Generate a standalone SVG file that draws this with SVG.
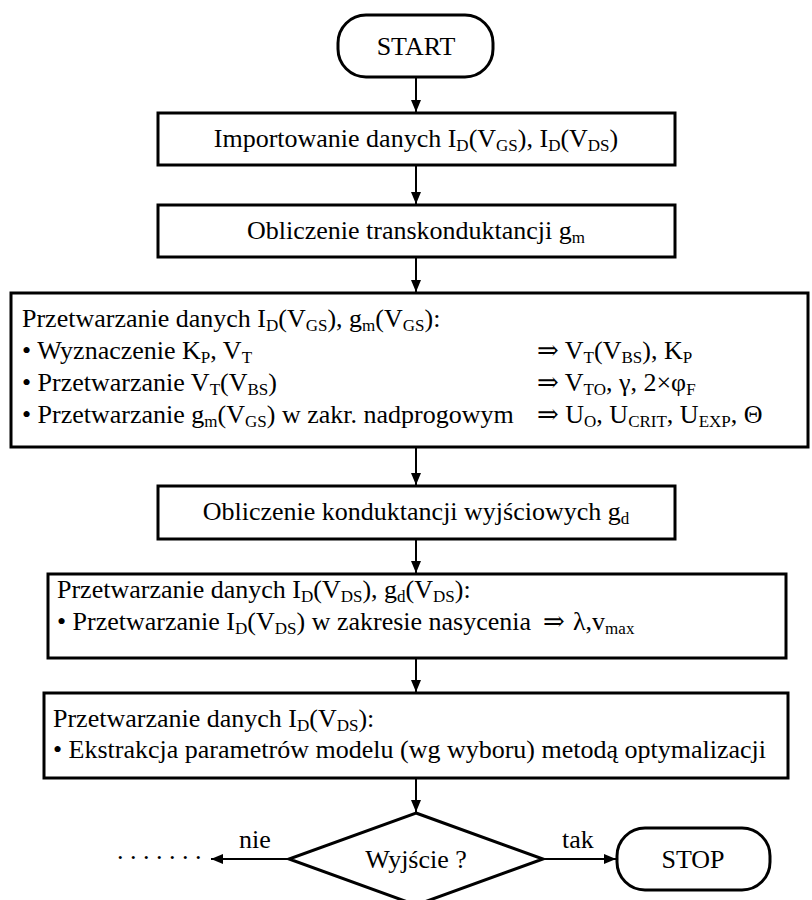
<svg xmlns="http://www.w3.org/2000/svg" width="812" height="900" viewBox="0 0 812 900">
<style>
.box{fill:#fff;stroke:#000;stroke-width:3}
.term{fill:#fff;stroke:#000;stroke-width:3}
.t{font-family:"Liberation Serif","Times New Roman","DejaVu Serif",serif;font-size:26px;fill:#000}
.c{text-anchor:middle}
.s{font-size:17px;baseline-shift:-4px}
.conn{stroke:#000;stroke-width:2;fill:none;marker-end:url(#ah)}
</style>
<defs>
<marker id="ah" markerWidth="12" markerHeight="10" refX="12" refY="5" orient="auto" markerUnits="userSpaceOnUse">
<path d="M0,0 L12,5 L0,10 z" fill="#000"/>
</marker>
</defs>
<rect width="812" height="900" fill="#fff"/>

<g id="connectors">
<line class="conn" x1="416" y1="77" x2="416" y2="112"/>
<line class="conn" x1="416" y1="165" x2="416" y2="204"/>
<line class="conn" x1="416" y1="257" x2="416" y2="292"/>
<line class="conn" x1="416" y1="447" x2="416" y2="485"/>
<line class="conn" x1="416" y1="539" x2="416" y2="573"/>
<line class="conn" x1="416" y1="658" x2="416" y2="692"/>
<line class="conn" x1="416" y1="778" x2="416" y2="812"/>
<line class="conn" x1="289" y1="859" x2="211" y2="859"/>
<line class="conn" x1="543" y1="859" x2="616" y2="859"/>
<text class="t" x="255" y="848" text-anchor="middle">nie</text>
<text class="t" x="578" y="848" text-anchor="middle">tak</text>
<text class="t" x="117" y="859">. . . . . . .</text>
</g>

<g id="start">
<rect class="term" x="338" y="15" width="155" height="62" rx="28" ry="28"/>
<text class="t c" x="416" y="55">START</text>
</g>

<g id="import">
<rect class="box" x="158" y="113" width="517" height="52"/>
<text class="t c" x="416" y="147">Importowanie danych I<tspan class="s">D</tspan>(V<tspan class="s">GS</tspan>), I<tspan class="s">D</tspan>(V<tspan class="s">DS</tspan>)</text>
</g>

<g id="gm">
<rect class="box" x="158" y="205" width="517" height="52"/>
<text class="t c" x="416" y="239">Obliczenie transkonduktancji g<tspan class="s">m</tspan></text>
</g>

<g id="proc1">
<rect class="box" x="11" y="293" width="797" height="154"/>
<text class="t" x="22" y="327">Przetwarzanie danych I<tspan class="s">D</tspan>(V<tspan class="s">GS</tspan>), g<tspan class="s">m</tspan>(V<tspan class="s">GS</tspan>):</text>
<text class="t" x="22" y="359">• Wyznaczenie K<tspan class="s">P</tspan>, V<tspan class="s">T</tspan></text>
<text class="t" x="537" y="359">⇒ V<tspan class="s">T</tspan>(V<tspan class="s">BS</tspan>), K<tspan class="s">P</tspan></text>
<text class="t" x="22" y="391">• Przetwarzanie V<tspan class="s">T</tspan>(V<tspan class="s">BS</tspan>)</text>
<text class="t" x="537" y="391">⇒ V<tspan class="s">TO</tspan>, γ, 2×φ<tspan class="s">F</tspan></text>
<text class="t" x="22" y="423">• Przetwarzanie g<tspan class="s">m</tspan>(V<tspan class="s">GS</tspan>) w zakr. nadprogowym</text>
<text class="t" x="537" y="423">⇒ U<tspan class="s">O</tspan>, U<tspan class="s">CRIT</tspan>, U<tspan class="s">EXP</tspan>, Θ</text>
</g>

<g id="gd">
<rect class="box" x="158" y="486" width="517" height="53"/>
<text class="t c" x="416" y="520">Obliczenie konduktancji wyjściowych g<tspan class="s">d</tspan></text>
</g>

<g id="proc2">
<rect class="box" x="48" y="574" width="738" height="84"/>
<text class="t" x="57" y="598">Przetwarzanie danych I<tspan class="s">D</tspan>(V<tspan class="s">DS</tspan>), g<tspan class="s">d</tspan>(V<tspan class="s">DS</tspan>):</text>
<text class="t" x="57" y="630">• Przetwarzanie I<tspan class="s">D</tspan>(V<tspan class="s">DS</tspan>) w zakresie nasycenia</text>
<text class="t" x="543" y="630">⇒</text>
<text class="t" x="573" y="630">λ,v<tspan class="s">max</tspan></text>
</g>

<g id="proc3">
<rect class="box" x="44" y="693" width="744" height="85"/>
<text class="t" x="53" y="727">Przetwarzanie danych I<tspan class="s">D</tspan>(V<tspan class="s">DS</tspan>):</text>
<text class="t" x="53" y="758">• Ekstrakcja parametrów modelu (wg wyboru) metodą optymalizacji</text>
</g>

<g id="decision">
<polygon class="box" points="416,813 543,859 416,905 289,859"/>
<text class="t c" x="416" y="868">Wyjście ?</text>
</g>

<g id="stop">
<rect class="term" x="617" y="828" width="153" height="62" rx="28" ry="28"/>
<text class="t c" x="693" y="868">STOP</text>
</g>
</svg>
